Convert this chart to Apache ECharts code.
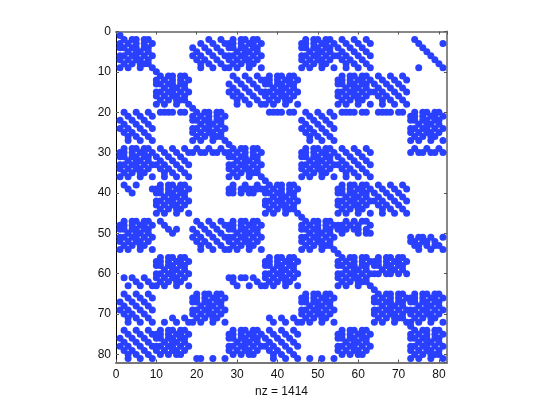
<!DOCTYPE html>
<html><head><meta charset="utf-8">
<style>html,body{margin:0;padding:0;background:#fff}#c{width:545px;height:410px}</style>
<script src="https://cdn.jsdelivr.net/npm/echarts@6/dist/echarts.min.js"></script>
</head><body><div id="c"></div>
<script>
const axisMax=82;
const xLabel="nz = 1414";
const DD=["#........",".#.##.##.","#.#.#.#.#","##.##.##.","..#.##.#.","##.##.#.#","#.#.##.#.",".#.#.###.","#.#..#..#"];
const OD=[".........",".#.##.##.","##.#.##.#","##.##.##.","..#.##.#.","##.##.#.#","#.#.##.#.",".#.#.##..","#.#..#..#"];
const OB=[".........",".#.##.##.","##.#.##.#","##.##.##.","..#.##.#.","##.##.#.#","#.#.##.#.",".#.#.##..","........."];
const S1=[".........","....#..#.","..#..#..#","#..#..#..",".#..#..#.","#.#..#..#",".#.#..#..","..#.#..#.","..#..#..#"];
const S2=[".........",".#..#..#.","..#..#..#","#..#..#..",".#..#..#.","#.#..#..#",".#.#..#..","..#.#..#.","..#..#..#"];
const II=[".........",".#.......","..#.....#","...#.....","....#....",".....#...","......#..",".......#.","..#.....#"];
const TT=[".........",".#.##.##.","##.#.##.#","##.##.##.","..#.##.#.","##.##.#.#",".........",".........","........."];
const blockGrid=[
["DD","","S1","OD","","OD","S2","","II"],
["","DD","","S2","OD","","OD","S2",""],
["S2","","DD","","","S2","","","OD"],
["OD","S2","","DD","","OD","S2","",""],
["","OD","","","DD","","OD","S2",""],
["OD","","S2","OD","","DD","","",""],
["","OD","","","OD","","DD","TT",""],
["S2","","OD","","","OD","","DD","OD"],
["S2","OB","","OB","S2","","OB","","DD"]];
const blocks={DD,OD,OB,S1,S2,II,TT};
const row20=[11,12,13,14,16,17,38,39,40,41,43,44,56,57,58,59,61,62,65,66,67,68,70,71];
const row29=[20,23,26,74,77,80];
const row30=[19,21,22,24,25,27,73,75,76,78,79,81];
const row38=[2,5,29,32,35];
const row39=[3,9,28,29,31,32,33,34,35,36];
const row40=[4,28,29,31,33,34];
const row47=[11,57,59,61,62];
const row48=[9,12,55,56,58,60,63];
const row49=[13,15,55,56,57,59,60,62];
const row50=[14,56,60,62,63];
const row51=[73,75,76,78,81];
const row52=[73,74,76,77,79];
const row53=[74,75,77,79,80];
const row54=[75,78,81];
const row61=[2,4,7,28,29,31,32,34];
const row62=[5,8,29,35];
const row63=[3,6,9,30,33,36];
const row71=[14,17,38,41,44];
const row72=[12,15,18,39,42,45];
const row81=[20,21,24,27,48,51,54];
const extras={20:row20,29:row29,30:row30,38:row38,39:row39,40:row40,47:row47,48:row48,49:row49,50:row50,51:row51,52:row52,53:row53,54:row54,61:row61,62:row62,63:row63,71:row71,72:row72,81:row81};
const seen=new Set();
blockGrid.forEach((line,bi)=>line.forEach((name,bj)=>{
  if(!name)return;
  blocks[name].forEach((s,r)=>{[...s].forEach((ch,c)=>{if(ch==='#')seen.add((bi*9+r+1)+','+(bj*9+c+1));});});
}));
Object.keys(extras).forEach(r=>extras[r].forEach(c=>seen.add(r+','+c)));
const points=[...seen].map(k=>{const [r,c]=k.split(',').map(Number);return [c,r];});
const chart=echarts.init(document.getElementById('c'),null,{renderer:'canvas'});
const font='"Liberation Sans",Arial,sans-serif';
chart.setOption({
  animation:false,backgroundColor:'#fff',
  grid:{left:116,top:31.5,width:331,height:331,containLabel:false},
  xAxis:[
   {type:'value',min:0,max:axisMax,interval:10,position:'bottom',name:xLabel,nameLocation:'middle',nameGap:20,
    nameTextStyle:{color:'#111',fontFamily:font,fontSize:12},
    axisLine:{show:true,onZero:false,lineStyle:{color:'#777',width:2}},
    axisTick:{show:true,inside:true,length:3,lineStyle:{color:'#555'}},
    axisLabel:{color:'#111',fontFamily:font,fontSize:12,margin:6,showMaxLabel:false},splitLine:{show:false}},
   {type:'value',min:0,max:axisMax,interval:10,position:'top',
    axisLine:{show:true,onZero:false,lineStyle:{color:'#888',width:2}},
    axisTick:{show:true,inside:true,length:3,lineStyle:{color:'#555'}},axisLabel:{show:false},splitLine:{show:false}}],
  yAxis:[
   {type:'value',min:0,max:axisMax,interval:10,inverse:true,position:'left',
    axisLine:{show:true,onZero:false,lineStyle:{color:'#000',width:1}},
    axisTick:{show:true,inside:true,length:3,lineStyle:{color:'#555'}},
    axisLabel:{color:'#111',fontFamily:font,fontSize:12,margin:5,showMaxLabel:false},splitLine:{show:false}},
   {type:'value',min:0,max:axisMax,interval:10,inverse:true,position:'right',
    axisLine:{show:true,onZero:false,lineStyle:{color:'#888',width:2}},
    axisTick:{show:true,inside:true,length:3,lineStyle:{color:'#555'}},axisLabel:{show:false},splitLine:{show:false}}],
  series:[{type:'scatter',xAxisIndex:0,yAxisIndex:0,data:points,symbol:'circle',symbolSize:7,silent:true,clip:false,
    itemStyle:{color:'#2a40ff',opacity:1}}]
});
</script></body></html>
